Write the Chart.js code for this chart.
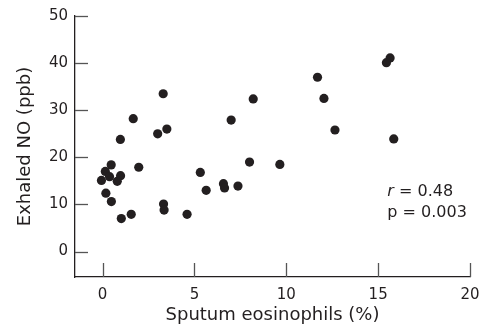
<!DOCTYPE html>
<html>
<head>
<meta charset="utf-8">
<script src="https://cdn.jsdelivr.net/npm/chart.js@4/dist/chart.umd.min.js"></script>
<style>
  html, body { margin: 0; padding: 0; background: #fff; }
  #wrap { width: 483px; height: 326px; }
</style>
</head>
<body>
<div id="wrap"><canvas id="chart"></canvas></div>
<script>
// Data
const sputumEos = [3.3, 1.67, 0.97, 3.0, 3.5, 7.0, 8.2, 8.0, 15.65, 15.45, 11.7, 12.05,
    12.65, 15.85, 9.65, 0.47, 0.15, -0.06, 0.38, 0.98, 0.8, 0.18, 0.48, 1.02, 1.56,
    1.97, 3.32, 3.35, 4.6, 5.32, 5.64, 6.58, 6.64, 7.37];
const exhaledNO = [33.5, 28.2, 23.8, 25.0, 26.0, 27.9, 32.4, 19.0, 41.1, 40.1, 37.0, 32.5,
    25.8, 23.9, 18.5, 18.4, 17.0, 15.1, 15.9, 16.1, 14.9, 12.4, 10.6, 7.0, 7.9,
    17.9, 10.1, 8.8, 7.9, 16.8, 13.0, 14.4, 13.5, 13.9];
const xTicks = [0, 5, 10, 15, 20];
const yTicks = [0, 10, 20, 30, 40, 50];
const statR = '0.48';
const statP = '0.003';

const ink = '#231f20';
const fontFamily = "'DejaVu Sans', sans-serif";

// inward tick marks, drawn from the scales
const innerTicks = {
    id: 'innerTicks',
    afterDraw(chart) {
        const { ctx, chartArea, scales } = chart;
        ctx.save();
        ctx.strokeStyle = '#555';
        ctx.lineWidth = 1.3;
        yTicks.forEach((v) => {
            const py = Math.round(scales.y.getPixelForValue(v)) + 0.5;
            ctx.beginPath();
            ctx.moveTo(chartArea.left, py);
            ctx.lineTo(chartArea.left + 13, py);
            ctx.stroke();
        });
        xTicks.forEach((v) => {
            const px = Math.round(scales.x.getPixelForValue(v)) + 0.5;
            ctx.beginPath();
            ctx.moveTo(px, chartArea.bottom);
            ctx.lineTo(px, chartArea.bottom - 14);
            ctx.stroke();
        });
        ctx.restore();
    },
};

// r / p annotation
const statsLabel = {
    id: 'statsLabel',
    afterDraw(chart) {
        const { ctx, scales } = chart;
        const x0 = scales.x.getPixelForValue(15.5);
        const yR = scales.y.getPixelForValue(12.7);
        const yP = scales.y.getPixelForValue(8.3);
        ctx.save();
        ctx.fillStyle = ink;
        ctx.textBaseline = 'middle';
        ctx.textAlign = 'left';
        ctx.font = 'italic 16px ' + fontFamily;
        ctx.fillText('r', x0, yR);
        const w = ctx.measureText('r').width;
        ctx.font = '16px ' + fontFamily;
        ctx.fillText(' = ' + statR, x0 + w, yR);
        ctx.fillText('p = ' + statP, x0, yP);
        ctx.restore();
    },
};

new Chart(document.getElementById('chart'), {
    type: 'scatter',
    data: {
        datasets: [{
            data: sputumEos.map((x, i) => ({ x: x, y: exhaledNO[i] })),
            backgroundColor: ink,
            borderColor: ink,
            pointRadius: 4.6,
            pointHoverRadius: 4.6,
            borderWidth: 0,
        }],
    },
    options: {
        responsive: true,
        maintainAspectRatio: false,
        animation: false,
        layout: {
            padding: { top: 16, right: 13, left: 0, bottom: 0 },
        },
        plugins: {
            legend: { display: false },
            tooltip: { enabled: false },
        },
        scales: {
            x: {
                type: 'linear',
                min: -1.5,
                max: 20,
                afterBuildTicks: (scale) => {
                    scale.ticks = xTicks.map((v) => ({ value: v }));
                },
                afterFit: (scale) => {
                    scale.height = 49;
                    scale.paddingRight = 0;
                    scale.paddingLeft = 0;
                },
                grid: { display: false, drawTicks: false },
                border: { display: true, color: ink, width: 1.3 },
                ticks: {
                    padding: 9,
                    color: ink,
                    font: { family: fontFamily, size: 15 },
                },
                title: {
                    display: true,
                    text: 'Sputum eosinophils (%)',
                    color: ink,
                    font: { family: fontFamily, size: 18 },
                    padding: { top: 0, bottom: 0 },
                },
            },
            y: {
                type: 'linear',
                min: -5.4,
                max: 50,
                afterBuildTicks: (scale) => {
                    scale.ticks = yTicks.map((v) => ({ value: v }));
                },
                afterFit: (scale) => {
                    scale.width = 75;
                    scale.paddingTop = 0;
                    scale.paddingBottom = 0;
                },
                grid: { display: false, drawTicks: false },
                border: { display: true, color: ink, width: 1.3 },
                ticks: {
                    padding: 7,
                    color: ink,
                    font: { family: fontFamily, size: 15 },
                },
                title: {
                    display: true,
                    text: 'Exhaled NO (ppb)',
                    color: ink,
                    font: { family: fontFamily, size: 18 },
                    padding: { top: 15, bottom: 0 },
                },
            },
        },
    },
    plugins: [innerTicks, statsLabel],
});
</script>
</body>
</html>
